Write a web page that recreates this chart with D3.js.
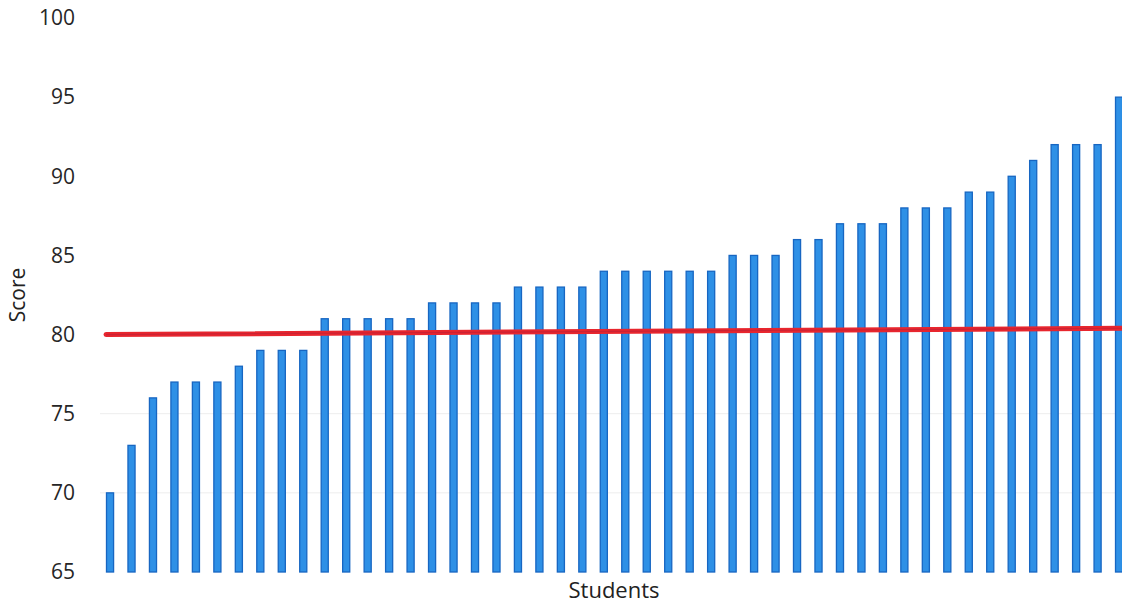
<!DOCTYPE html>
<html>
<head>
<meta charset="utf-8">
<script src="https://cdn.jsdelivr.net/npm/d3@7/dist/d3.min.js"></script>
<style>
  html, body { margin: 0; padding: 0; background: #ffffff; }
  svg { display: block; }
</style>
</head>
<body>
<svg id="chart" width="1122" height="607"></svg>
<script>
// ---- data ----
const students = d3.range(1, 49).map(i => "S" + i);
const scores = [70, 73, 76, 77, 77, 77, 78, 79, 79, 79, 81, 81, 81,
                81, 81, 82, 82, 82, 82, 83, 83, 83, 83, 84, 84, 84, 84, 84, 84, 85,
                85, 85, 86, 86, 87, 87, 87, 88, 88, 88, 89, 89, 90, 91, 92, 92, 92, 95];
const yTicks = [65, 70, 75, 80, 85, 90, 95, 100];
const passLine = [80, 80.4];   // start / end value of the red line as it appears
const gridTicks = [70, 75];

// ---- layout ----
const svg = d3.select("#chart");
const yTop = 18, yBottom = 572;

const x = d3.scaleBand().domain(students).range([106.5, 1122.6])
  .paddingInner(0.67).paddingOuter(0);
const y = d3.scaleLinear().domain([65, 100]).range([yBottom, yTop]);

// faint gridlines
svg.append("g").selectAll("line").data(gridTicks).join("line")
  .attr("x1", 100).attr("x2", 1122)
  .attr("y1", d => y(d)).attr("y2", d => y(d))
  .attr("stroke", "#ededed").attr("stroke-width", 1);

// y axis labels
const yAxis = d3.axisLeft(y).tickValues(yTicks).tickSize(0).tickPadding(0);
const gy = svg.append("g").attr("transform", "translate(75,0)").call(yAxis);
gy.select(".domain").remove();
gy.selectAll("text")
  .attr("font-family", "'Open Sans', sans-serif")
  .attr("font-size", 21)
  .attr("fill", "#262626");

// bars
svg.append("g").selectAll("rect").data(scores).join("rect")
  .attr("x", (d, i) => x(students[i]))
  .attr("width", x.bandwidth())
  .attr("y", d => y(d))
  .attr("height", d => y(65) - y(d))
  .attr("fill", "#2e90e6")
  .attr("stroke", "#1766c2")
  .attr("stroke-width", 1.3);

// red line
const lx = d3.scaleLinear().domain([0, 1]).range([106, 1122]);
svg.append("line")
  .attr("x1", lx(0)).attr("x2", lx(1))
  .attr("y1", y(passLine[0])).attr("y2", y(passLine[1]))
  .attr("stroke", "#e8262e").attr("stroke-width", 5)
  .attr("stroke-linecap", "round");
svg.append("line")
  .attr("x1", lx(0)).attr("x2", lx(1))
  .attr("y1", y(passLine[0])).attr("y2", y(passLine[1]))
  .attr("stroke", "#b01f3a").attr("stroke-width", 1.2).attr("opacity", 0.5);

// axis titles
svg.append("text")
  .attr("x", 614).attr("y", 598)
  .attr("text-anchor", "middle")
  .attr("font-family", "'Open Sans', sans-serif")
  .attr("font-size", 22)
  .attr("fill", "#222")
  .text("Students");

svg.append("text")
  .attr("transform", "translate(25,295) rotate(-90)")
  .attr("text-anchor", "middle")
  .attr("font-family", "'Open Sans', sans-serif")
  .attr("font-size", 21)
  .attr("fill", "#222")
  .text("Score");
</script>
</body>
</html>
